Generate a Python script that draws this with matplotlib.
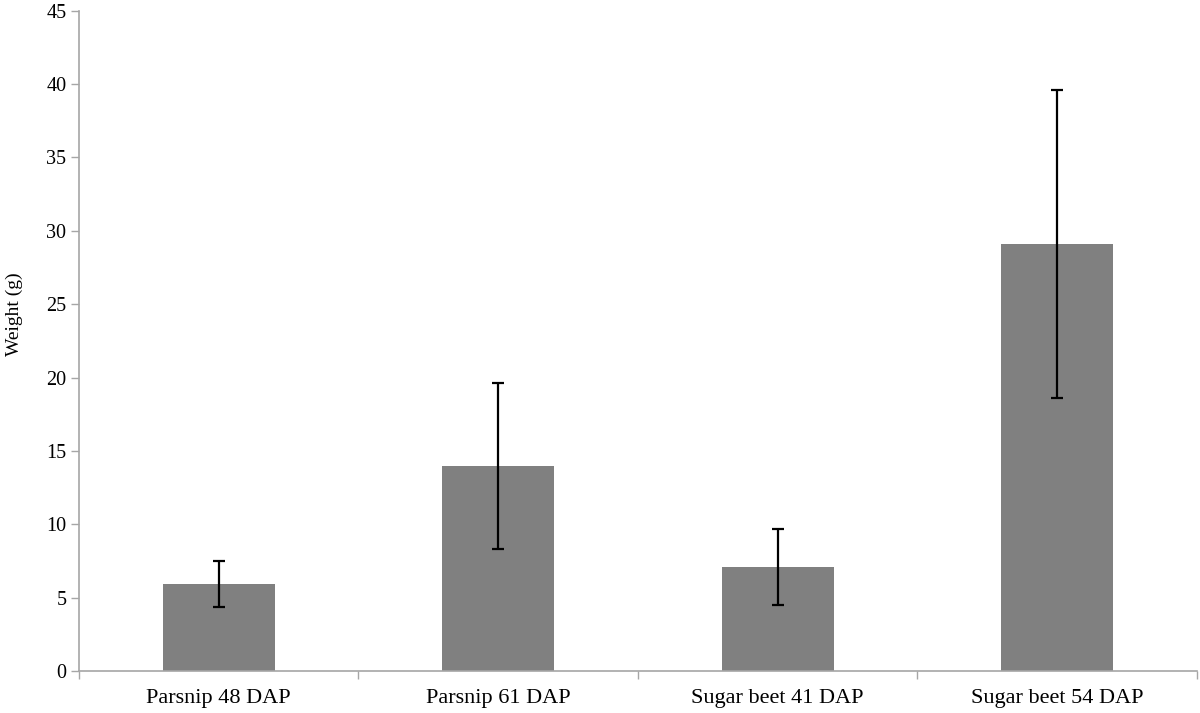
import numpy as np
import matplotlib
matplotlib.use('Agg')
import matplotlib.pyplot as plt

categories = ["Parsnip 48 DAP", "Parsnip 61 DAP", "Sugar beet 41 DAP", "Sugar beet 54 DAP"]
weights = [5.92, 13.95, 7.07, 29.1]
errors = [1.56, 5.66, 2.59, 10.47]
y_ticks = [0, 5, 10, 15, 20, 25, 30, 35, 40, 45]

plt.rcParams['font.family'] = ['Liberation Serif', 'DejaVu Serif']
axis_gray = '#a6a6a6'

fig = plt.figure(figsize=(12, 7.13), dpi=100)
ax = fig.add_axes([0.0658, 0.0589, 0.9317, 0.9261])

x = np.arange(len(categories))
ax.bar(x, weights, width=0.4, color='#808080', zorder=2)
ax.errorbar(x, weights, yerr=errors, fmt='none', ecolor='black',
            elinewidth=1.6, capsize=4, capthick=1.6, zorder=3)

ax.set_xlim(-0.5, len(categories) - 0.5)
ax.set_ylim(0, 45)
ax.set_yticks(y_ticks)
ax.set_yticklabels([str(t) for t in y_ticks], fontsize=14.5)

# boundary ticks as major, labels at centres as minor
ax.set_xticks(np.arange(-0.5, len(categories), 1.0))
ax.set_xticklabels([])
ax.set_xticks(x, minor=True)
ax.set_xticklabels(categories, minor=True, fontsize=16)
ax.tick_params(axis='x', which='major', direction='out', length=6,
               color=axis_gray, width=1)
ax.tick_params(axis='x', which='minor', length=0, pad=13)
ax.tick_params(axis='y', direction='out', length=6, color=axis_gray,
               width=1, pad=3)

for s in ['top', 'right']:
    ax.spines[s].set_visible(False)
for s in ['left', 'bottom']:
    ax.spines[s].set_color(axis_gray)
    ax.spines[s].set_linewidth(1.2)

ax.set_ylabel("Weight (g)", fontsize=14)
ax.yaxis.set_label_coords(-0.05, 0.54)

fig.savefig("out.png", dpi=100)
plt.close()
